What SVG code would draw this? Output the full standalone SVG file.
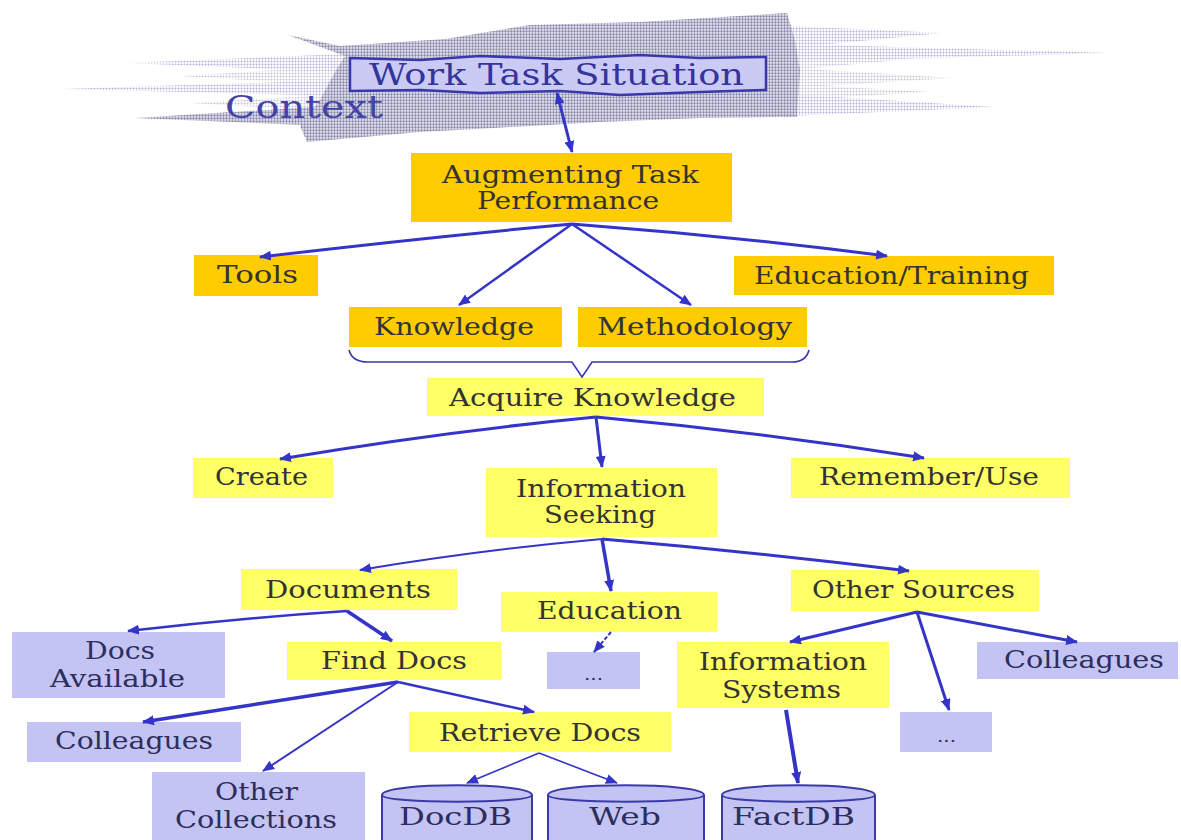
<svg xmlns="http://www.w3.org/2000/svg" width="1181" height="840" viewBox="0 0 1181 840">
<style>
.o{fill:#FFCC00}
.y{fill:#FFFF66}
.l{fill:#C4C4F4}
.t{font-family:"DejaVu Serif","Liberation Serif",serif;font-size:24px;fill:#333333}
.tl{fill:#2e2e5c}
.c{stroke:#3434C8;fill:none;stroke-width:3;marker-end:url(#ah)}
.thin{stroke-width:1.6}
.cyl{fill:#C4C4F4;stroke:#3a3aa8;stroke-width:2}
</style>
<defs>
<marker id="ah" markerUnits="userSpaceOnUse" markerWidth="12" markerHeight="10" refX="11" refY="5" orient="auto-start-reverse" viewBox="0 0 12 10">
<path d="M0,0 L12,5 L0,10 z" fill="#3434C8"/>
</marker>
<pattern id="dk" width="3" height="3" patternUnits="userSpaceOnUse">
<rect width="3" height="3" fill="#e6e6ee"/>
<circle cx="1.5" cy="1.5" r="1.15" fill="#8484aa"/>
</pattern>
<pattern id="lt" width="3" height="3" patternUnits="userSpaceOnUse">
<rect width="3" height="3" fill="#ffffff"/>
<circle cx="1.5" cy="1.5" r="1" fill="#b4aedc"/>
</pattern>
<pattern id="lg" width="3" height="3" patternUnits="userSpaceOnUse">
<rect width="3" height="3" fill="#ffffff"/>
<circle cx="1.5" cy="1.5" r="1" fill="#c4c4d8"/>
</pattern>
</defs>

<g id="context-cloud">
<polygon fill="url(#lg)" points="180,76 345,66 345,86"/>
<polygon fill="url(#lg)" points="190,103 345,94 345,112"/>
<polygon fill="url(#lt)" points="127,63 345,54 345,72"/>
<polygon fill="url(#lt)" points="62,89 345,80 345,96"/>
<polygon fill="url(#dk)" points="135,118 330,106 330,126"/>
<polygon fill="url(#lg)" points="900,60 790,54 790,70"/>
<polygon fill="url(#lg)" points="930,92 790,84 790,100"/>
<polygon fill="url(#lt)" points="942,33 790,26 790,48"/>
<polygon fill="url(#lt)" points="1110,53 790,44 790,62"/>
<polygon fill="url(#lg)" points="954,78 790,68 790,88"/>
<polygon fill="url(#lt)" points="994,107 790,94 790,116"/>
<polygon fill="url(#dk)" points="288,35 340,46 445,39 530,25 640,22 787,13 795,40 800,70 797,117 700,118 600,122 494,128 420,132 307,142 300,126 320,100 335,72 345,56"/>
<text class="t" x="225" y="118" style="font-size:32px;fill:#4343a6" textLength="158" lengthAdjust="spacingAndGlyphs">Context</text>
</g>

<g id="work-task-situation">
<path d="M350,58 L420,60 L480,56 L560,59 L640,55 L700,58 L766,57 L766,90 L700,92 L620,95 L560,91 L480,93 L420,90 L350,91 Z" fill="#CACAF4" stroke="#3838a8" stroke-width="2.5"/>
<text class="t" x="369" y="85" style="font-size:29px;fill:#34349c" textLength="375" lengthAdjust="spacingAndGlyphs">Work Task Situation</text>
</g>

<g id="augmenting">
<rect class="o" x="411" y="153" width="321" height="69"/>
<text class="t" x="442" y="183" textLength="257" lengthAdjust="spacingAndGlyphs">Augmenting Task</text>
<text class="t" x="477" y="209" textLength="182" lengthAdjust="spacingAndGlyphs">Performance</text>
</g>

<g id="tools">
<rect class="o" x="194" y="255" width="124" height="41"/>
<text class="t" x="217" y="283" textLength="81" lengthAdjust="spacingAndGlyphs">Tools</text>
</g>

<g id="education-training">
<rect class="o" x="734" y="256" width="320" height="39"/>
<text class="t" x="754" y="284" textLength="275" lengthAdjust="spacingAndGlyphs">Education/Training</text>
</g>

<g id="knowledge">
<rect class="o" x="349" y="307" width="213" height="40"/>
<text class="t" x="374" y="335" textLength="160" lengthAdjust="spacingAndGlyphs">Knowledge</text>
</g>

<g id="methodology">
<rect class="o" x="578" y="307" width="229" height="40"/>
<text class="t" x="597" y="335" textLength="195" lengthAdjust="spacingAndGlyphs">Methodology</text>
</g>

<g id="brace">
<path d="M349,350 Q352,362 368,362 L572,362 L582,377 L592,362 L792,362 Q806,362 809,350" fill="none" stroke="#3838b0" stroke-width="1.6"/>
</g>

<g id="acquire-knowledge">
<rect class="y" x="427" y="378" width="337" height="38"/>
<text class="t" x="449" y="406" textLength="287" lengthAdjust="spacingAndGlyphs">Acquire Knowledge</text>
</g>

<g id="create">
<rect class="y" x="193" y="458" width="140" height="40"/>
<text class="t" x="215" y="485" textLength="93" lengthAdjust="spacingAndGlyphs">Create</text>
</g>

<g id="information-seeking">
<rect class="y" x="486" y="468" width="231" height="69"/>
<text class="t" x="516" y="497" textLength="170" lengthAdjust="spacingAndGlyphs">Information</text>
<text class="t" x="544" y="523" textLength="112" lengthAdjust="spacingAndGlyphs">Seeking</text>
</g>

<g id="remember-use">
<rect class="y" x="791" y="458" width="279" height="40"/>
<text class="t" x="819" y="485" textLength="220" lengthAdjust="spacingAndGlyphs">Remember/Use</text>
</g>

<g id="documents">
<rect class="y" x="241" y="569" width="216" height="41"/>
<text class="t" x="265" y="598" textLength="166" lengthAdjust="spacingAndGlyphs">Documents</text>
</g>

<g id="education">
<rect class="y" x="501" y="592" width="216" height="40"/>
<text class="t" x="537" y="619" textLength="145" lengthAdjust="spacingAndGlyphs">Education</text>
</g>

<g id="other-sources">
<rect class="y" x="791" y="570" width="248" height="41"/>
<text class="t" x="812" y="598" textLength="203" lengthAdjust="spacingAndGlyphs">Other Sources</text>
</g>

<g id="docs-available">
<rect class="l" x="12" y="632" width="213" height="66"/>
<text class="t tl" x="85" y="659" textLength="70" lengthAdjust="spacingAndGlyphs">Docs</text>
<text class="t tl" x="50" y="687" textLength="135" lengthAdjust="spacingAndGlyphs">Available</text>
</g>

<g id="find-docs">
<rect class="y" x="287" y="642" width="214" height="38"/>
<text class="t" x="321" y="669" textLength="146" lengthAdjust="spacingAndGlyphs">Find Docs</text>
</g>

<g id="education-more">
<rect class="l" x="547" y="652" width="93" height="37"/>
<text class="t tl" x="584" y="680" style="font-size:16px" textLength="19" lengthAdjust="spacingAndGlyphs">...</text>
</g>

<g id="information-systems">
<rect class="y" x="677" y="642" width="212" height="66"/>
<text class="t" x="699" y="670" textLength="168" lengthAdjust="spacingAndGlyphs">Information</text>
<text class="t" x="722" y="698" textLength="119" lengthAdjust="spacingAndGlyphs">Systems</text>
</g>

<g id="colleagues-right">
<rect class="l" x="977" y="642" width="201" height="37"/>
<text class="t tl" x="1004" y="668" textLength="160" lengthAdjust="spacingAndGlyphs">Colleagues</text>
</g>

<g id="other-sources-more">
<rect class="l" x="900" y="712" width="92" height="40"/>
<text class="t tl" x="937" y="742" style="font-size:16px" textLength="19" lengthAdjust="spacingAndGlyphs">...</text>
</g>

<g id="colleagues-left">
<rect class="l" x="27" y="722" width="214" height="40"/>
<text class="t tl" x="55" y="749" textLength="158" lengthAdjust="spacingAndGlyphs">Colleagues</text>
</g>

<g id="retrieve-docs">
<rect class="y" x="409" y="712" width="262" height="40"/>
<text class="t" x="439" y="741" textLength="202" lengthAdjust="spacingAndGlyphs">Retrieve Docs</text>
</g>

<g id="other-collections">
<rect class="l" x="152" y="772" width="213" height="70"/>
<text class="t tl" x="215" y="800" textLength="83" lengthAdjust="spacingAndGlyphs">Other</text>
<text class="t tl" x="175" y="828" textLength="162" lengthAdjust="spacingAndGlyphs">Collections</text>
</g>

<g id="docdb">
<path class="cyl" d="M382,795 C382,782 532,782 532,795 L532,845 L382,845 Z"/>
<path class="cyl" d="M382,795 C382,804 532,804 532,795" fill="none"/>
<text class="t tl" x="399" y="825" textLength="113" lengthAdjust="spacingAndGlyphs">DocDB</text>
</g>

<g id="web">
<path class="cyl" d="M548,795 C548,782 704,782 704,795 L704,845 L548,845 Z"/>
<path class="cyl" d="M548,795 C548,804 704,804 704,795" fill="none"/>
<text class="t tl" x="589" y="825" textLength="72" lengthAdjust="spacingAndGlyphs">Web</text>
</g>

<g id="factdb">
<path class="cyl" d="M722,795 C722,782 875,782 875,795 L875,845 L722,845 Z"/>
<path class="cyl" d="M722,795 C722,804 875,804 875,795" fill="none"/>
<text class="t tl" x="732" y="825" textLength="123" lengthAdjust="spacingAndGlyphs">FactDB</text>
</g>

<g id="connectors">
<path class="c" d="M557,93 L572,152" style="marker-start:url(#ah)"/>
<path class="c" d="M572,224 Q420,238 260,257"/>
<path class="c" d="M572,224 L459,305" style="stroke-width:2.5"/>
<path class="c" d="M572,224 L691,305" style="stroke-width:2.5"/>
<path class="c" d="M572,224 Q730,236 887,256"/>
<path class="c" d="M596,417 Q440,432 280,459"/>
<path class="c" d="M596,417 L602,467"/>
<path class="c" d="M596,417 Q760,432 924,458"/>
<path class="c" d="M602,539 Q480,550 360,570" style="stroke-width:2"/>
<path class="c" d="M602,539 L611,591" style="stroke-width:3.5"/>
<path class="c" d="M602,539 Q755,552 909,571"/>
<path class="c" d="M347,611 Q240,618 128,631" style="stroke-width:2.5"/>
<path class="c" d="M347,611 L392,641" style="stroke-width:3.5"/>
<path class="c" d="M611,632 L594,652" style="stroke-width:2;stroke-dasharray:4 2"/>
<path class="c" d="M917,612 L790,642"/>
<path class="c" d="M917,612 L949,710"/>
<path class="c" d="M917,612 L1077,642"/>
<path class="c" d="M398,682 L143,722" style="stroke-width:3.5"/>
<path class="c" d="M398,682 L263,771" style="stroke-width:2"/>
<path class="c" d="M398,682 L534,712" style="stroke-width:2.5"/>
<path class="c thin" d="M539,753 L467,783"/>
<path class="c thin" d="M539,753 L617,783"/>
<path class="c" d="M786,710 L798,783" style="stroke-width:4"/>
</g>
</svg>
